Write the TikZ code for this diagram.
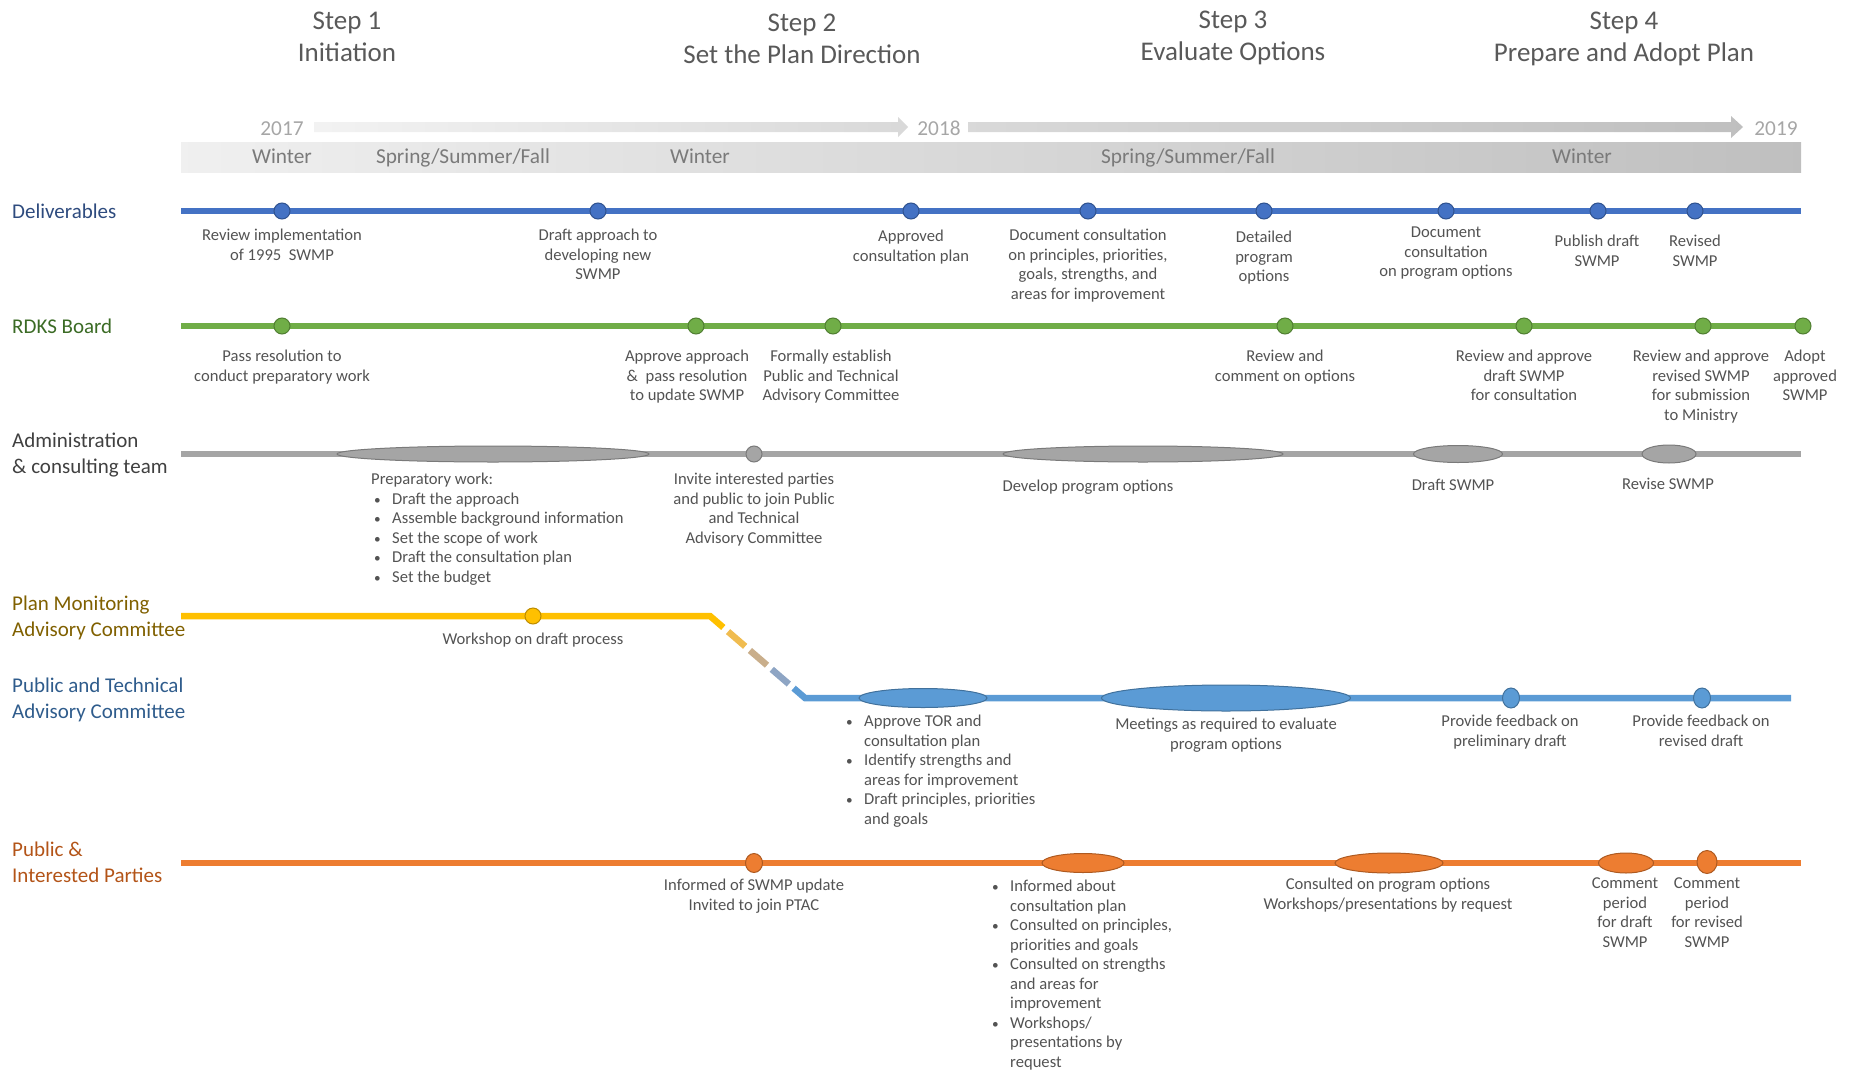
\documentclass[tikz,border=0pt]{standalone}
\usepackage{fontspec}
\setmainfont{Carlito}
\usetikzlibrary{calc,shapes.geometric}
\definecolor{txt}{HTML}{535353}
\definecolor{titc}{HTML}{595959}
\definecolor{seas}{HTML}{7A7A7A}
\definecolor{yearc}{HTML}{A6A6A6}
\definecolor{delc}{HTML}{4472C4}
\definecolor{deld}{HTML}{2F528F}
\definecolor{grnc}{HTML}{70AD47}
\definecolor{grnd}{HTML}{507E32}
\definecolor{gryc}{HTML}{A5A5A5}
\definecolor{gryd}{HTML}{7A7A7A}
\definecolor{ylwc}{HTML}{FFC000}
\definecolor{ylwd}{HTML}{BC8C00}
\definecolor{bluc}{HTML}{5B9BD5}
\definecolor{blud}{HTML}{41719C}
\definecolor{orgc}{HTML}{ED7D31}
\definecolor{orgd}{HTML}{AE5A21}
\definecolor{laneD}{HTML}{2E4B7E}
\definecolor{laneR}{HTML}{3B6B25}
\definecolor{laneA}{HTML}{404040}
\definecolor{laneP}{HTML}{806000}
\definecolor{laneT}{HTML}{2F5C8C}
\definecolor{laneO}{HTML}{B35418}
\definecolor{dsA}{HTML}{FCBF14}
\definecolor{dsB}{HTML}{F0BC50}
\definecolor{dsC}{HTML}{C9AE8B}
\definecolor{dsD}{HTML}{8EA5C4}
\definecolor{dsE}{HTML}{5B9BD5}
\newcommand\bul{\makebox[18pt][l]{\scalebox{0.8}{\textbullet}}}
\newcommand\ind{\makebox[18pt][l]{}}
\begin{document}
\begin{tikzpicture}[x=1pt,y=-1pt,
  lbl/.style={font=\fontsize{16.6}{19.5}\selectfont, text=txt, align=center, anchor=north, inner sep=0pt},
  lst/.style={lbl, align=left, anchor=north west},
  lane/.style={font=\fontsize{21}{26}\selectfont, anchor=north west, align=left, inner sep=0pt},
  ttl/.style={font=\fontsize{27}{32}\selectfont, text=titc, align=center, anchor=north, inner sep=0pt},
  season/.style={font=\fontsize{21.3}{24}\selectfont, text=seas, anchor=base, inner sep=0pt},
  year/.style={season, text=yearc},
  track/.style={line width=6.5pt},
  dot/.style={circle, minimum size=16pt, inner sep=0pt, line width=1pt},
  blob/.style={ellipse, inner sep=0pt, line width=1pt}]
\useasboundingbox (0,0) rectangle (1857,1073);

% ---------- titles
\node[ttl] (t1) at (347,11.5) {Step 1\\Initiation};
\node[ttl] (t2) at (802,13.5) {Step 2\\Set the Plan Direction};
\node[ttl] (t3) at (1233,10.5) {Step 3\\Evaluate Options};
\node[ttl] (t4) at (1624,11.5) {Step 4\\Prepare and Adopt Plan};

% ---------- time header
\shade[left color=black!5, right color=black!15] (314,122) -- (898,122) -- (898,117) -- (908,127) -- (898,137) -- (898,132) -- (314,132) -- cycle;
\shade[left color=black!15, right color=black!25] (968,122) -- (1731,122) -- (1731,116) -- (1743,127) -- (1731,138) -- (1731,132) -- (968,132) -- cycle;
\node[year] (y17) at (282,135) {2017};
\node[year] (y18) at (939,135) {2018};
\node[year] (y19) at (1776,135) {2019};
\node[minimum width=1620pt, minimum height=30pt, inner sep=0pt, left color=black!6, right color=black!25] (band) at (991,157) {};
\node[season] (s1) at (282,163) {Winter};
\node[season] (s2) at (463,163) {Spring/Summer/Fall};
\node[season] (s3) at (700,163) {Winter};
\node[season] (s4) at (1188,163) {Spring/Summer/Fall};
\node[season] (s5) at (1582,163) {Winter};

% ---------- lane labels
\node[lane, text=laneD] (lD) at (12,204) {Deliverables};
\node[lane, text=laneR] (lR) at (12,319) {RDKS Board};
\node[lane, text=laneA] (lA) at (12,432.5) {Administration\\\& consulting team};
\node[lane, text=laneP] (lP) at (12,596) {Plan Monitoring\\Advisory Committee};
\node[lane, text=laneT] (lT) at (12,678) {Public and Technical\\Advisory Committee};
\node[lane, text=laneO] (lO) at (12,842) {Public \&\\Interested Parties};

% ---------- track coordinates
\coordinate (dA) at (181,211);  \coordinate (dB) at (1801,211);
\coordinate (rA) at (181,326);  \coordinate (rB) at (1801,326);
\coordinate (aA) at (181,454);  \coordinate (aB) at (1801,454);
\coordinate (pA) at (181,616);  \coordinate (pB) at (710,616);
\coordinate (tA) at (805,698);  \coordinate (tB) at (1791,698);
\coordinate (oA) at (181,863);  \coordinate (oB) at (1801,863);

\draw[track, delc] (dA) -- (dB);
\draw[track, grnc] (rA) -- (rB);
\draw[track, gryc] (aA) -- (aB);
\draw[track, orgc] (oA) -- (oB);
\draw[track, ylwc, line join=miter] (pA) -- (pB) -- ($(pB)!0.14!(tA)$);
\draw[track, dsB] ($(pB)!0.19!(tA)$) -- ($(pB)!0.37!(tA)$);
\draw[track, dsC] ($(pB)!0.42!(tA)$) -- ($(pB)!0.60!(tA)$);
\draw[track, dsD] ($(pB)!0.65!(tA)$) -- ($(pB)!0.83!(tA)$);
\draw[track, bluc, line join=miter] ($(pB)!0.88!(tA)$) -- (tA) -- (tB);

% ---------- deliverables
\foreach \n/\x in {1/282,2/598,3/911,4/1088,5/1264,6/1446,7/1598,8/1695}
  \node[dot, fill=delc, draw=deld] (dd\n) at (\x,211) {};
\node[lbl] (dl1) at (282,229) {Review implementation\\of 1995~~SWMP};
\node[lbl] (dl2) at (598,229) {Draft approach to\\developing new\\SWMP};
\node[lbl] (dl3) at (911,230) {Approved\\consultation plan};
\node[lbl] (dl4) at (1088,229) {Document consultation\\on principles, priorities,\\goals, strengths, and\\areas for improvement};
\node[lbl] (dl5) at (1264,231) {Detailed\\program\\options};
\node[lbl] (dl6) at (1446,227) {Document\\consultation\\on program options};
\node[lbl] (dl7) at (1597,235) {Publish draft\\SWMP};
\node[lbl] (dl8) at (1695,235) {Revised\\SWMP};

% ---------- RDKS board
\foreach \n/\x in {1/282,2/696,3/833,4/1285,5/1524,6/1703,7/1803}
  \node[dot, fill=grnc, draw=grnd] (rd\n) at (\x,326) {};
\node[lbl] (rl1) at (282,350) {Pass resolution to\\conduct preparatory work};
\node[lbl] (rl2) at (687,350) {Approve approach\\\&~~pass resolution\\to update SWMP};
\node[lbl] (rl3) at (831,350) {Formally establish\\Public and Technical\\Advisory Committee};
\node[lbl] (rl4) at (1285,350) {Review and\\comment on options};
\node[lbl] (rl5) at (1524,350) {Review and approve\\draft SWMP\\for consultation};
\node[lbl] (rl6) at (1701,350) {Review and approve\\revised SWMP\\for submission\\to Ministry};
\node[lbl] (rl7) at (1805,350) {Adopt\\approved\\SWMP};

% ---------- administration
\node[blob, fill=gryc, draw=gryd, minimum width=312pt, minimum height=16pt] (ae1) at (493,454) {};
\node[dot, fill=gryc, draw=gryd] (ae2) at (754,454) {};
\node[blob, fill=gryc, draw=gryd, minimum width=280pt, minimum height=16pt] (ae3) at (1143,454) {};
\node[blob, fill=gryc, draw=gryd, minimum width=89pt, minimum height=17pt] (ae4) at (1458,454) {};
\node[blob, fill=gryc, draw=gryd, minimum width=54pt, minimum height=18pt] (ae5) at (1669,454) {};
\node[lst] (al1) at (371,473) {Preparatory work:\\
  \hspace*{3pt}\bul Draft the approach\\
  \hspace*{3pt}\bul Assemble background information\\
  \hspace*{3pt}\bul Set the scope of work\\
  \hspace*{3pt}\bul Draft the consultation plan\\
  \hspace*{3pt}\bul Set the budget};
\node[lbl] (al2) at (754,473) {Invite interested parties\\and public to join Public\\and Technical\\Advisory Committee};
\node[lbl] (al3) at (1088,480) {Develop program options};
\node[lbl] (al4) at (1453,479) {Draft SWMP};
\node[lbl] (al5) at (1668,478) {Revise SWMP};

% ---------- plan monitoring
\node[dot, fill=ylwc, draw=ylwd] (pd1) at (533,616) {};
\node[lbl] (pl1) at (533,633) {Workshop on draft process};

% ---------- PTAC
\node[blob, fill=bluc, draw=blud, minimum width=128pt, minimum height=19pt] (te1) at (923,698) {};
\node[blob, fill=bluc, draw=blud, minimum width=249pt, minimum height=26pt] (te2) at (1226,698) {};
\node[blob, fill=bluc, draw=blud, minimum width=17pt, minimum height=20pt] (te3) at (1511,698) {};
\node[blob, fill=bluc, draw=blud, minimum width=17pt, minimum height=20pt] (te4) at (1702,698) {};
\node[lst] (tl1) at (846,715) {\bul Approve TOR and\\
  \ind consultation plan\\
  \bul Identify strengths and\\
  \ind areas for improvement\\
  \bul Draft principles, priorities\\
  \ind and goals};
\node[lbl] (tl2) at (1226,718) {Meetings as required to evaluate\\program options};
\node[lbl] (tl3) at (1510,715) {Provide feedback on\\preliminary draft};
\node[lbl] (tl4) at (1701,715) {Provide feedback on\\revised draft};

% ---------- public
\node[blob, fill=orgc, draw=orgd, minimum width=17pt, minimum height=19pt] (oe1) at (754,863) {};
\node[blob, fill=orgc, draw=orgd, minimum width=82pt, minimum height=19pt] (oe2) at (1083,863) {};
\node[blob, fill=orgc, draw=orgd, minimum width=108pt, minimum height=20pt] (oe3) at (1389,863) {};
\node[blob, fill=orgc, draw=orgd, minimum width=55pt, minimum height=20pt] (oe4) at (1626,863) {};
\node[blob, fill=orgc, draw=orgd, minimum width=20pt, minimum height=23pt] (oe5) at (1707,862) {};
\node[lbl] (ol1) at (754,879) {Informed of SWMP update\\Invited to join PTAC};
\node[lst] (ol2) at (992,880) {\bul Informed about\\
  \ind consultation plan\\
  \bul Consulted on principles,\\
  \ind priorities and goals\\
  \bul Consulted on strengths\\
  \ind and areas for\\
  \ind improvement\\
  \bul Workshops/\\
  \ind presentations by\\
  \ind request};
\node[lbl] (ol3) at (1388,878) {Consulted on program options\\Workshops/presentations by request};
\node[lbl] (ol4) at (1625,878) {Comment\\period\\for draft\\SWMP};
\node[lbl] (ol5) at (1707,878) {Comment\\period\\for revised\\SWMP};
\end{tikzpicture}
\end{document}
